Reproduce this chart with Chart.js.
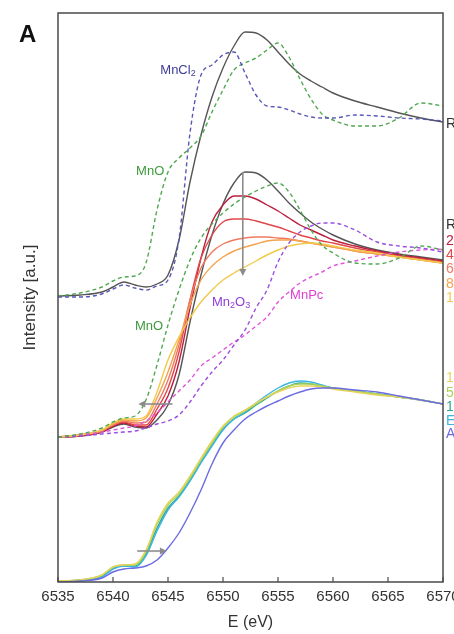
<!DOCTYPE html>
<html>
<head>
<meta charset="utf-8">
<script src="https://cdn.jsdelivr.net/npm/chart.js@4.4.0/dist/chart.umd.min.js"></script>
<style>
  html, body { margin: 0; padding: 0; background: #fff; }
</style>
</head>
<body>
<canvas id="xanes" width="454" height="634"></canvas>
<script>
// Energy grid (eV)
const energy = [6535, 6537, 6539, 6540, 6541, 6542, 6543, 6544, 6545, 6546, 6547, 6548, 6549, 6550,
  6551, 6552, 6553, 6554, 6555, 6556, 6557, 6558, 6559, 6560, 6562, 6564, 6566, 6568, 6570];

// Top stack: reference compounds vs. RT sample (offset spectra, a.u.)
const topRT    = [2.86,2.87,2.90,2.95,3.00,2.97,2.95,2.98,3.07,3.42,4.00,4.47,4.85,5.14,5.36,5.50,5.49,5.42,5.30,5.18,5.08,5.01,4.95,4.89,4.81,4.75,4.69,4.64,4.60];
const topMnCl2 = [2.85,2.85,2.88,2.93,2.97,2.94,2.92,2.96,3.02,3.43,4.49,5.07,5.17,5.27,5.30,5.09,4.87,4.76,4.75,4.72,4.68,4.65,4.64,4.64,4.67,4.66,4.64,4.63,4.61];
const topMnO   = [2.86,2.89,2.95,3.01,3.05,3.06,3.19,3.72,4.10,4.24,4.34,4.46,4.70,4.92,5.12,5.19,5.24,5.32,5.39,5.25,5.03,4.83,4.68,4.62,4.56,4.56,4.64,4.79,4.76];

// Middle stack: heating series with MnO / Mn2O3 / MnPc references
const midRT    = [1.45,1.46,1.50,1.55,1.58,1.55,1.54,1.62,1.77,2.07,2.60,3.07,3.47,3.78,3.99,4.10,4.09,4.02,3.91,3.79,3.69,3.60,3.53,3.47,3.38,3.32,3.28,3.25,3.22];
const mid2     = [1.45,1.46,1.50,1.56,1.59,1.56,1.55,1.68,1.86,2.20,2.74,3.24,3.60,3.77,3.86,3.86,3.83,3.77,3.71,3.64,3.57,3.52,3.47,3.42,3.36,3.31,3.27,3.24,3.21];
const mid4     = [1.45,1.47,1.51,1.57,1.60,1.57,1.57,1.73,1.94,2.30,2.82,3.24,3.47,3.60,3.63,3.63,3.61,3.58,3.55,3.51,3.47,3.44,3.41,3.39,3.34,3.30,3.26,3.23,3.20];
const mid6     = [1.45,1.47,1.51,1.57,1.61,1.59,1.60,1.78,2.02,2.37,2.82,3.14,3.30,3.38,3.42,3.44,3.45,3.45,3.44,3.43,3.41,3.39,3.37,3.35,3.31,3.28,3.25,3.22,3.19];
const mid8     = [1.45,1.47,1.52,1.58,1.62,1.61,1.64,1.84,2.10,2.42,2.77,3.02,3.16,3.25,3.31,3.35,3.38,3.41,3.42,3.42,3.41,3.39,3.37,3.35,3.31,3.28,3.25,3.22,3.19];
const mid10    = [1.45,1.47,1.52,1.59,1.63,1.63,1.66,1.90,2.22,2.45,2.64,2.80,2.92,3.02,3.09,3.15,3.21,3.27,3.32,3.36,3.38,3.39,3.38,3.36,3.32,3.29,3.25,3.22,3.19];
const midMnO   = [1.45,1.48,1.54,1.60,1.64,1.66,1.82,2.17,2.57,2.92,3.22,3.44,3.58,3.69,3.78,3.85,3.91,3.96,3.99,3.90,3.72,3.52,3.37,3.29,3.19,3.18,3.24,3.36,3.32];
const midMn2O3 = [1.45,1.46,1.48,1.49,1.50,1.51,1.54,1.58,1.61,1.67,1.80,1.96,2.10,2.22,2.37,2.52,2.74,2.92,3.20,3.39,3.50,3.56,3.59,3.59,3.52,3.40,3.36,3.34,3.30];
const midMnPc  = [1.45,1.47,1.50,1.52,1.54,1.56,1.61,1.69,1.80,1.91,2.02,2.16,2.24,2.32,2.40,2.47,2.56,2.65,2.80,2.90,2.99,3.05,3.10,3.16,3.21,3.26,3.30,3.32,3.33];

// Bottom stack
const bot10    = [0.01,0.02,0.07,0.15,0.17,0.18,0.32,0.60,0.79,0.90,1.06,1.24,1.41,1.56,1.66,1.72,1.79,1.85,1.90,1.94,1.96,1.96,1.95,1.93,1.90,1.87,1.85,1.82,1.78];
const bot5     = [0.01,0.02,0.07,0.15,0.17,0.17,0.30,0.58,0.77,0.88,1.04,1.22,1.39,1.55,1.65,1.71,1.78,1.85,1.91,1.96,1.98,1.98,1.96,1.94,1.91,1.88,1.85,1.82,1.78];
const bot1     = [0.01,0.02,0.06,0.14,0.16,0.16,0.28,0.54,0.74,0.86,1.02,1.20,1.37,1.53,1.63,1.69,1.77,1.84,1.91,1.96,1.99,1.98,1.96,1.94,1.91,1.88,1.85,1.82,1.78];
const botE     = [0.00,0.01,0.05,0.13,0.16,0.15,0.26,0.51,0.72,0.85,1.01,1.19,1.36,1.52,1.63,1.70,1.79,1.87,1.94,1.99,2.01,2.00,1.97,1.94,1.91,1.88,1.85,1.82,1.78];
const botA     = [0.00,0.01,0.04,0.10,0.13,0.14,0.16,0.22,0.34,0.49,0.69,0.92,1.18,1.39,1.52,1.63,1.70,1.76,1.81,1.86,1.90,1.93,1.94,1.94,1.92,1.90,1.86,1.82,1.78];

const xTicks = [6535, 6540, 6545, 6550, 6555, 6560, 6565, 6570];

const C = {
  rt: '#555555', mncl2: '#5858b8', mno: '#52a852', mn2o3: '#9b4fe0', mnpc: '#e055d8',
  s2: '#b8203e', s4: '#e2464a', s6: '#f07a62', s8: '#f4a24c', s10: '#f2c94a',
  b10: '#e6d45a', b5: '#a9d357', b1: '#2fa98c', bE: '#3cb4e6', bA: '#6b6be2'
};

function series(label, values, color, dashed) {
  return {
    label,
    data: energy.map((e, i) => ({ x: e, y: values[i] })),
    borderColor: color,
    borderWidth: 1.4,
    borderDash: dashed ? [4, 3] : [],
    pointRadius: 0,
    fill: false,
    cubicInterpolationMode: 'monotone'
  };
}

// labels on the right edge, they run off the canvas
const sideLabels = [
  { text: 'RT', y: 4.58, color: '#333' },
  { text: 'RT', y: 3.57, color: '#333' },
  { text: '2 min', y: 3.41, color: C.s2 },
  { text: '4 min', y: 3.27, color: C.s4 },
  { text: '6 min', y: 3.13, color: C.s6 },
  { text: '8 min', y: 2.98, color: C.s8 },
  { text: '10 min', y: 2.84, color: C.s10 },
  { text: '10 min', y: 2.04, color: C.b10 },
  { text: '5 min', y: 1.89, color: C.b5 },
  { text: '1:1', y: 1.75, color: C.b1 },
  { text: 'Ex situ', y: 1.61, color: C.bE },
  { text: 'As prep.', y: 1.48, color: C.bA }
];

// compound names inside the plot (left edge in eV, middle in a.u.)
const names = [
  { parts: [['MnCl'], ['2', 1]], x: 6544.3, y: 5.12, color: '#3d3d96' },
  { parts: [['MnO']], x: 6542.1, y: 4.11, color: '#3d9a3d' },
  { parts: [['MnO']], x: 6542.0, y: 2.56, color: '#3d9a3d' },
  { parts: [['Mn'], ['2', 1], ['O'], ['3', 1]], x: 6549.0, y: 2.80, color: '#8e3fd8' },
  { parts: [['MnPc']], x: 6556.1, y: 2.87, color: '#dd3fd2' }
];

// gray trend arrows [x1, y1, x2, y2]
const arrows = [
  [6551.8, 4.10, 6551.8, 3.06],
  [6545.4, 1.78, 6542.3, 1.78],
  [6542.2, 0.31, 6544.9, 0.31]
];

function drawArrow(ctx, x1, y1, x2, y2) {
  const a = Math.atan2(y2 - y1, x2 - x1), h = 7;
  ctx.beginPath();
  ctx.moveTo(x1, y1);
  ctx.lineTo(x2 - Math.cos(a) * h * 0.8, y2 - Math.sin(a) * h * 0.8);
  ctx.stroke();
  ctx.beginPath();
  ctx.moveTo(x2, y2);
  ctx.lineTo(x2 - h * Math.cos(a) + 3.5 * Math.sin(a), y2 - h * Math.sin(a) - 3.5 * Math.cos(a));
  ctx.lineTo(x2 - h * Math.cos(a) - 3.5 * Math.sin(a), y2 - h * Math.sin(a) + 3.5 * Math.cos(a));
  ctx.closePath();
  ctx.fill();
}

const FONT = '"Liberation Sans", Arial, sans-serif';

const decor = {
  id: 'decor',
  afterDatasetsDraw(chart) {
    const { ctx, chartArea: a, scales: { x, y } } = chart;
    ctx.save();

    // frame
    ctx.strokeStyle = '#4a4a4a';
    ctx.lineWidth = 1.5;
    ctx.strokeRect(a.left, a.top, a.right - a.left, a.bottom - a.top);

    // inward tick marks on the energy axis
    ctx.lineWidth = 1.2;
    xTicks.forEach(t => {
      const px = x.getPixelForValue(t);
      ctx.beginPath();
      ctx.moveTo(px, a.bottom);
      ctx.lineTo(px, a.bottom - 5);
      ctx.stroke();
    });

    // arrows
    ctx.strokeStyle = '#8c8c8c';
    ctx.fillStyle = '#8c8c8c';
    ctx.lineWidth = 1.6;
    arrows.forEach(([x1, y1, x2, y2]) =>
      drawArrow(ctx, x.getPixelForValue(x1), y.getPixelForValue(y1), x.getPixelForValue(x2), y.getPixelForValue(y2)));

    // compound names with subscripts
    ctx.textBaseline = 'middle';
    ctx.textAlign = 'left';
    names.forEach(n => {
      let px = x.getPixelForValue(n.x);
      const py = y.getPixelForValue(n.y);
      ctx.fillStyle = n.color;
      n.parts.forEach(([t, sub]) => {
        ctx.font = (sub ? 9 : 13) + 'px ' + FONT;
        ctx.fillText(t, px, sub ? py + 4 : py);
        px += ctx.measureText(t).width;
      });
    });

    // series labels at the right
    ctx.font = '14px ' + FONT;
    sideLabels.forEach(l => {
      ctx.fillStyle = l.color;
      ctx.fillText(l.text, a.right + 3, y.getPixelForValue(l.y));
    });

    // panel letter
    ctx.fillStyle = '#111';
    ctx.font = 'bold 24px ' + FONT;
    ctx.textBaseline = 'alphabetic';
    ctx.fillText('A', 19, 42);
    ctx.restore();
  }
};

new Chart(document.getElementById('xanes'), {
  type: 'line',
  data: {
    datasets: [
      series('MnCl2', topMnCl2, C.mncl2, true),
      series('MnO', topMnO, C.mno, true),
      series('RT', topRT, C.rt, false),
      series('MnO', midMnO, C.mno, true),
      series('Mn2O3', midMn2O3, C.mn2o3, true),
      series('MnPc', midMnPc, C.mnpc, true),
      series('10', mid10, C.s10, false),
      series('8', mid8, C.s8, false),
      series('6', mid6, C.s6, false),
      series('4', mid4, C.s4, false),
      series('2', mid2, C.s2, false),
      series('RT', midRT, C.rt, false),
      series('A', botA, C.bA, false),
      series('10', bot10, C.b10, false),
      series('5', bot5, C.b5, false),
      series('E', botE, C.bE, false),
      series('1', bot1, C.b1, false)
    ]
  },
  options: {
    responsive: false,
    animation: false,
    layout: { padding: { left: 0, right: 11, top: 13, bottom: 0 } },
    plugins: { legend: { display: false }, tooltip: { enabled: false } },
    scales: {
      x: {
        type: 'linear',
        min: 6535,
        max: 6570,
        afterFit: s => { s.height = 52; s.paddingLeft = 0; s.paddingRight = 0; },
        afterBuildTicks: s => { s.ticks = xTicks.map(v => ({ value: v })); },
        grid: { display: false, drawTicks: false },
        border: { display: false },
        ticks: { color: '#333', padding: 6, maxRotation: 0, font: { size: 15, family: FONT }, callback: v => String(v) },
        title: { display: true, text: 'E (eV)', color: '#333', padding: { top: 0, bottom: 2 }, font: { size: 16, family: FONT } }
      },
      y: {
        min: 0,
        max: 5.69,
        afterFit: s => { s.width = 58; },
        grid: { display: false, drawTicks: false },
        border: { display: false },
        ticks: { display: false },
        title: { display: true, text: 'Intensity [a.u.]', color: '#333', padding: { top: 20, bottom: 0 }, font: { size: 17, family: FONT } }
      }
    }
  },
  plugins: [decor]
});
</script>
</body>
</html>
